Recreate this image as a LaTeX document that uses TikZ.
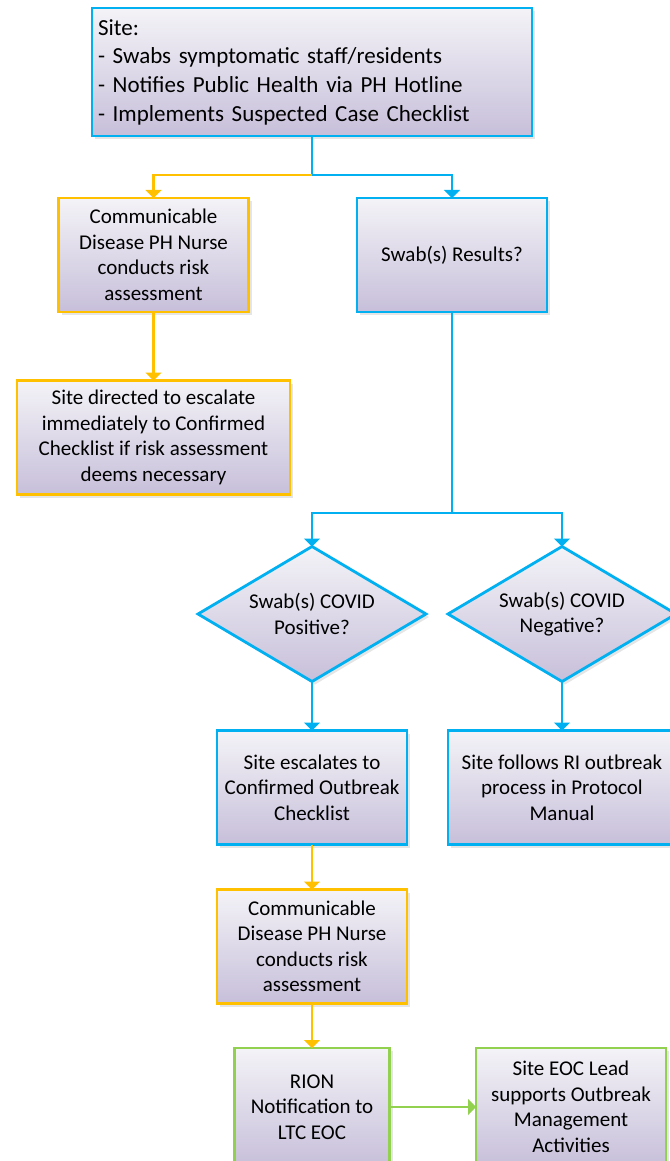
\documentclass[tikz,border=0pt]{standalone}
\usepackage{fontspec}
\setmainfont{Carlito}
\usepackage{tikz}
\usetikzlibrary{shapes.geometric,arrows.meta,shadows}
\definecolor{boxblue}{RGB}{0,176,240}
\definecolor{boxorange}{RGB}{255,192,0}
\definecolor{boxgreen}{RGB}{146,208,80}
\definecolor{topfill}{RGB}{244,243,247}
\definecolor{botfill}{RGB}{199,191,218}

\begin{document}
\begin{tikzpicture}[x=1pt,y=-1pt,
		base/.style={line width=2.8pt, top color=topfill, bottom color=botfill,
			drop shadow={shadow xshift=3pt, shadow yshift=-3pt, opacity=0.25, fill=black!40},
			inner sep=4pt, outer sep=0pt, align=center,
			font=\fontsize{21}{25.5}\selectfont},
		bbox/.style={base, draw=boxblue, rectangle, minimum width=190pt, minimum height=114pt},
		obox/.style={base, draw=boxorange, rectangle, minimum width=190pt, minimum height=114pt},
		gbox/.style={base, draw=boxgreen, rectangle, minimum width=155pt, minimum height=118pt},
		query/.style={base, draw=boxblue, diamond, aspect=1.69, minimum width=228pt, minimum height=135pt, inner sep=0pt},
		bline/.style={line width=2.8pt, draw=boxblue, -{Triangle[width=16pt,length=8pt]}},
		oline/.style={line width=2.8pt, draw=boxorange, -{Triangle[width=16pt,length=8pt]}},
		gline/.style={line width=2.8pt, draw=boxgreen, -{Triangle[width=16pt,length=8pt]}}]
		\useasboundingbox (0,0) rectangle (669,1161);
		
		% boxes
		\node[bbox, minimum width=440pt, minimum height=128pt, align=left, text width=428pt,
			font=\fontsize{23}{28.7}\selectfont] (site) at (312,72)
			{Site:\\- Swabs symptomatic staff/residents\\- Notifies Public Health via PH Hotline\\- Implements Suspected Case Checklist};
		\node[obox] (nurseA) at (153.5,255) {Communicable\\Disease PH Nurse\\conducts risk\\assessment};
		\node[bbox] (results) at (452,255) {Swab(s) Results?};
		\node[obox, minimum width=273pt] (direct) at (153.5,437.5) {Site directed to escalate\\immediately to Confirmed\\Checklist if risk assessment\\deems necessary};
		\node[query] (pos) at (312,614) {Swab(s) COVID\\Positive?};
		\node[query] (neg) at (562,614) {Swab(s) COVID\\Negative?};
		\node[bbox] (escal) at (312,787.5) {Site escalates to\\Confirmed Outbreak\\Checklist};
		\node[bbox, minimum width=228pt] (follow) at (562,787.5) {Site follows RI outbreak\\process in Protocol\\Manual};
		\node[obox] (nurseB) at (312,946.5) {Communicable\\Disease PH Nurse\\conducts risk\\assessment};
		\node[gbox] (rion) at (312,1107) {RION\\Notification to\\LTC EOC};
		\node[gbox, minimum width=190pt] (lead) at (571,1107) {Site EOC Lead\\supports Outbreak\\Management\\Activities};
		
		% connectors
		\coordinate (fork) at (312,175);
		\coordinate (split) at (452,513);
		\draw[line width=2.8pt, boxblue] (site.south) -- (fork);
		\draw[oline] (fork) -| (nurseA.north);
		\draw[bline] (fork) -| (results.north);
		\draw[oline] (nurseA.south) -- (direct.north);
		\draw[line width=2.8pt, boxblue] (results.south) -- (split);
		\draw[bline] (split) -| (pos.north);
		\draw[bline] (split) -| (neg.north);
		\draw[bline] (pos.south) -- (escal.north);
		\draw[bline] (neg.south) -- (follow.north);
		\draw[oline] (escal.south) -- (nurseB.north);
		\draw[oline] (nurseB.south) -- (rion.north);
		\draw[gline] (rion.east) -- (lead.west);
\end{tikzpicture}
\end{document}
